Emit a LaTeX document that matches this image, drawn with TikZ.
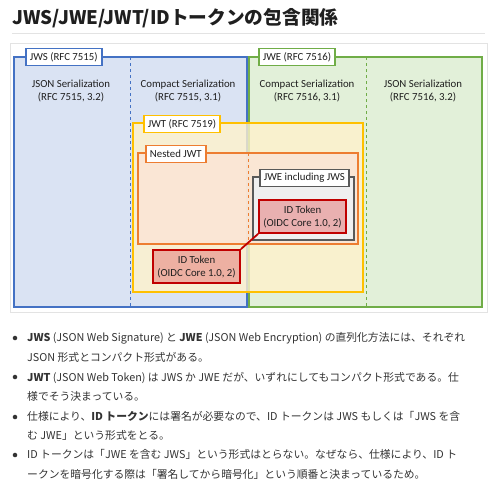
\documentclass[tikz,border=0pt]{standalone}
\usepackage{fontspec}
\setmainfont{Carlito}
\newfontfamily\jp{Noto Sans CJK JP}
\usetikzlibrary{positioning}
\definecolor{txt}{HTML}{1F1F1F}
\definecolor{bodytxt}{HTML}{333333}
\definecolor{rulegray}{HTML}{E3E3E3}
\definecolor{jwsblue}{HTML}{4472C4}
\definecolor{jwsfill}{HTML}{DAE3F3}
\definecolor{jwegreen}{HTML}{70AD47}
\definecolor{jwefill}{HTML}{E2F0D9}
\definecolor{jwtyellow}{HTML}{FFC000}
\definecolor{jwtfill}{HTML}{FFF2CC}
\definecolor{nestorange}{HTML}{ED7D31}
\definecolor{nestfill}{HTML}{FBE5D6}
\definecolor{incgray}{HTML}{595959}
\definecolor{incfill}{HTML}{EFEFEF}
\definecolor{tokred}{HTML}{C00000}
\definecolor{tokfill}{HTML}{E57373}
\begin{document}
\begin{tikzpicture}[x=1pt,y=-1pt,
        every node/.style={font=\fontsize{10.8}{12}\selectfont, text=txt},
        area/.style={draw=#1, line width=2.4pt, anchor=north west, inner sep=0pt, outer sep=0pt},
        tag/.style={draw=#1, fill=white, line width=1.8pt, anchor=west, minimum height=17pt, inner xsep=4pt, inner ysep=0pt},
        token/.style={draw=tokred, fill=tokfill, fill opacity=0.5, text opacity=1, line width=1.8pt, minimum width=87pt, minimum height=33pt, align=center, inner sep=0pt, font=\fontsize{10.8}{13}\selectfont},
        serial/.style={align=center, font=\fontsize{10.8}{13}\selectfont},
        bullettext/.style={anchor=west, align=left, inner sep=0pt, text=bodytxt, font=\jp\fontsize{10.8}{19.5}\selectfont}]
        \useasboundingbox (0,0) rectangle (500,499);
        \fill[white] (0,0) rectangle (500,499);

        \node[anchor=west, inner sep=0pt, font=\jp\bfseries\fontsize{18.7}{22}\selectfont] (title) at (12,18) {JWS/JWE/JWT/IDトークンの包含関係};
        \draw[rulegray, line width=1pt] (12,33) -- (485,33);
        \draw[rulegray, line width=1pt] (10,43) rectangle (487,312);

        \node[area=jwsblue, fill=jwsfill, minimum width=233pt, minimum height=250pt] (jws) at (14,57) {};
        \node[area=jwegreen, fill=jwefill, minimum width=233pt, minimum height=250pt] (jwe) at (249,57) {};
        \draw[jwsblue, dashed, line width=0.8pt] (130,57) -- (130,307);
        \draw[jwegreen, dashed, line width=0.8pt] (366,57) -- (366,307);

        \foreach \cx/\kind/\rfc/\nm in {71/JSON/{7515, 3.2}/sjws, 188/Compact/{7515, 3.1}/cjws, 307/Compact/{7516, 3.1}/cjwe, 423/JSON/{7516, 3.2}/sjwe}
            {
                \node[serial] (\nm) at (\cx, 91) {\kind\ Serialization\\(RFC \rfc)};
            }

        \node[area=jwtyellow, fill=jwtfill, fill opacity=0.8, minimum width=230pt, minimum height=169pt] (jwt) at (133,123) {};
        \node[area=nestorange, fill=nestfill, fill opacity=0.85, minimum width=220pt, minimum height=91pt] (nested) at (138,153) {};
        \draw[nestorange, dashed, line width=0.8pt] (248,153) -- (248,244);
        \node[area=incgray, fill=incfill, minimum width=101pt, minimum height=63pt] (inc) at (253,177) {};

        \node[token] (idin) at (302.5, 216.5) {ID Token\\(OIDC Core 1.0, 2)};
        \node[token] (idout) at (196.5, 266.5) {ID Token\\(OIDC Core 1.0, 2)};
        \draw[tokred, line width=1.8pt] (idout.north east) -- (idin.south west);

        \node[tag=jwsblue] (jwstag) at (25,57) {JWS (RFC 7515)};
        \node[tag=jwegreen] (jwetag) at (258,57) {JWE (RFC 7516)};
        \node[tag=jwtyellow] (jwttag) at (143,124) {JWT (RFC 7519)};
        \node[tag=nestorange] (nesttag) at (145,154) {Nested JWT};
        \node[tag=incgray] (inctag) at (259,178) {JWE including JWS};

        \foreach \i/\by in {1/338, 2/377, 3/417, 4/455}
            {
                \node[circle, fill=bodytxt, inner sep=1.6pt] (dot\i) at (15, \by) {};
            }
        \node[bullettext] (note1) at (27, 347.5) {{\bfseries JWS} (JSON Web Signature) と {\bfseries JWE} (JSON Web Encryption) の直列化方法には、それぞれ\\JSON 形式とコンパクト形式がある。};
        \node[bullettext] (note2) at (27, 387) {{\bfseries JWT} (JSON Web Token) は JWS か JWE だが、いずれにしてもコンパクト形式である。仕\\様でそう決まっている。};
        \node[bullettext] (note3) at (27, 426) {仕様により、{\bfseries ID トークン}には署名が必要なので、ID トークンは JWS もしくは「JWS を含\\む JWE」という形式をとる。};
        \node[bullettext] (note4) at (27, 464.5) {ID トークンは「JWE を含む JWS」という形式はとらない。なぜなら、仕様により、ID ト\\ークンを暗号化する際は「署名してから暗号化」という順番と決まっているため。};
    \end{tikzpicture}
\end{document}
